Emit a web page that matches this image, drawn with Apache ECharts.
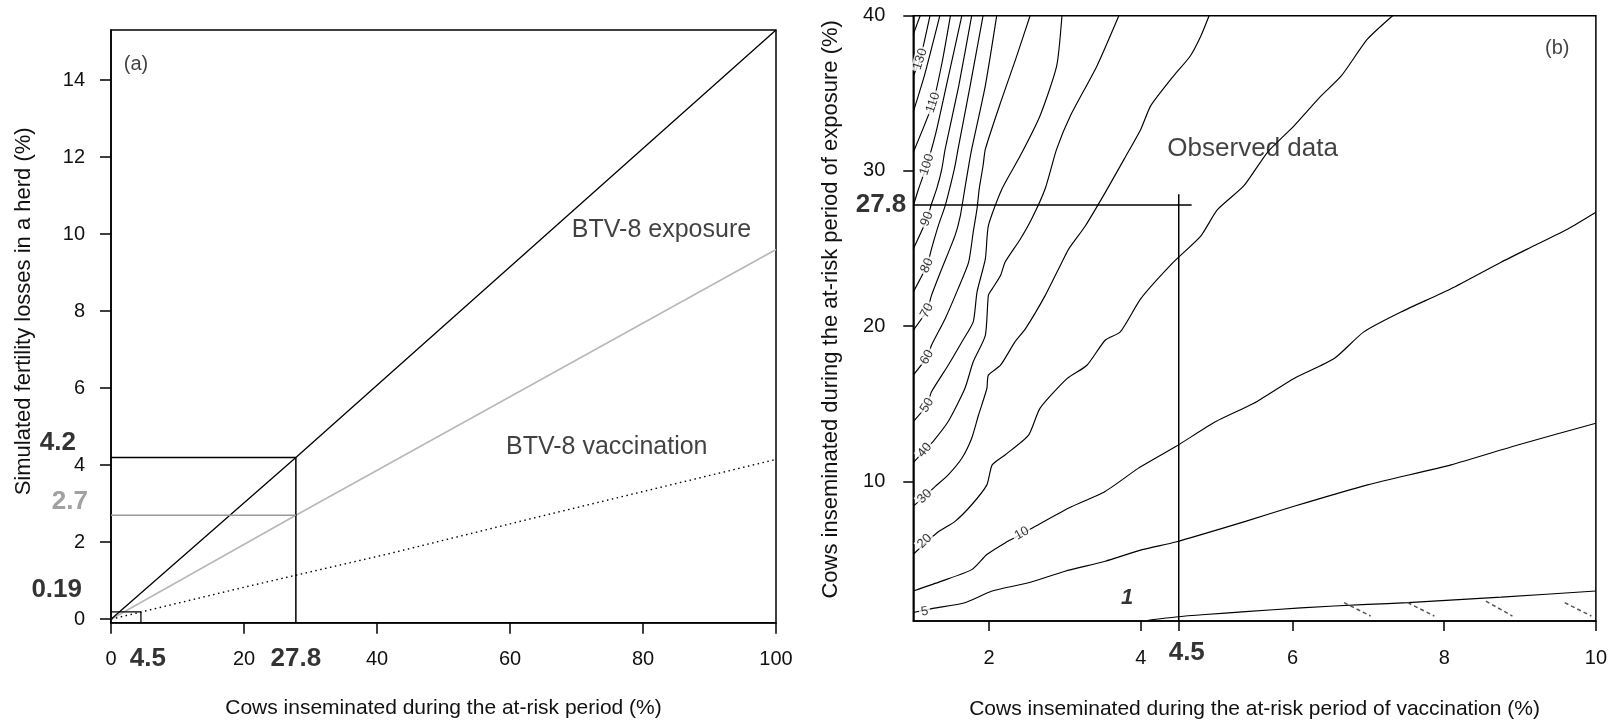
<!DOCTYPE html>
<html>
<head>
<meta charset="utf-8">
<script src="https://cdn.jsdelivr.net/npm/echarts@6/dist/echarts.min.js"></script>
<style>
  html, body { margin: 0; padding: 0; background: #fff; }
  #chart { width: 1610px; height: 725px; }
</style>
</head>
<body>
<div id="chart"></div>
<script>
const FONT = "'Liberation Sans', Arial, Helvetica, sans-serif";

// ---------- Panel (a): simulated fertility losses ----------
const shareAtRisk       = [0, 27.8, 100];
const lossExposure      = [0, 4.2, 15.3];
const lossExposureGrey  = [0, 2.7, 9.6];
const shareVacc         = [0, 20, 42, 65.5, 100];
const lossVaccination   = [0, 0.83, 1.71, 2.71, 4.15];
const observedShare     = 27.8;
const observedLoss      = 4.2;
const observedLossGrey  = 2.7;
const vaccShare         = 4.5;
const vaccLoss          = 0.19;
const ticksAy           = [0, 2, 4, 6, 8, 10, 12, 14];
const yMinA = -0.09, yMaxA = 15.3;

// ---------- Panel (b): contour lines of fertility losses ----------
const ticksBx = [2, 4, 6, 8, 10];
const ticksBy = [10, 20, 30, 40];
const observedVacc = 4.5;
const observedExpo = 27.8;

const level1   = [[4.1,1.05],[4.46,1.26],[4.85,1.42],[5.38,1.6],[6.11,1.85],[6.99,2.07],[7.52,2.18],[8.75,2.54],[10,2.93]];
const level5   = [[1,1.55],[1.26,1.81],[1.68,2.18],[2.04,2.93],[2.52,3.46],[3,4.21],[3.53,4.85],[4.02,5.6],[4.46,6.09],[5.38,7.42],[6.02,8.39],[6.99,9.77],[8.09,11.06],[8.97,12.34],[10,13.74]];
const level10  = [[1,2.93],[1.375,3.57],[1.77,4.31],[1.97,5.28],[2.21,6.03],[2.43,6.6],[2.61,7.1],[3.05,8.28],[3.53,9.35],[3.97,10.85],[4.46,12.24],[4.99,13.85],[5.49,15.03],[6.02,16.63],[6.55,17.91],[6.94,19.63],[7.43,20.91],[8.09,22.41],[8.75,24.12],[9.19,25.19],[9.63,26.26],[10,27.34]];
const level20  = [[1,5.3],[1.31,6.67],[1.55,7.42],[1.77,8.49],[1.97,9.77],[2.04,11.06],[2.21,11.7],[2.52,12.98],[2.67,14.7],[3.03,16.63],[3.29,17.48],[3.53,19.09],[3.73,19.63],[4,21.77],[4.43,24.12],[4.79,25.8],[5.01,27.5],[5.36,29.05],[5.67,31.2],[6.02,32.9],[6.37,34.8],[6.64,36.1],[6.99,38.5],[7.32,40]];
const level30  = [[1,8.4],[1.15,9.03],[1.29,9.67],[1.46,10.42],[1.64,11.49],[1.77,12.78],[1.86,14.27],[1.97,15.98],[1.99,16.84],[2.15,17.48],[2.34,18.98],[2.48,19.84],[2.74,21.98],[2.96,24.12],[3.05,24.98],[3.27,26.47],[3.53,28.6],[3.78,30.76],[4,32.69],[4.13,34.19],[4.43,36.11],[4.65,37.39],[4.79,38.68],[4.9,40]];
const level40  = [[1,11.2],[1.15,12],[1.26,12.56],[1.46,13.85],[1.68,15.98],[1.79,17.7],[1.95,19.41],[1.99,21.98],[2.04,22.4],[2.15,23.26],[2.21,24.12],[2.41,25.6],[2.56,26.9],[2.74,28.87],[2.89,31.4],[3.07,33.54],[3.42,36.75],[3.71,40]];
const level50  = [[1,13.85],[1.18,14.9],[1.24,15.77],[1.46,17.48],[1.64,18.98],[1.79,20.27],[1.84,22.19],[1.95,24.33],[1.99,26.47],[2.17,28.85],[2.41,30.97],[2.67,33.54],[2.89,36.75],[2.96,40]];
const level60  = [[1,16.84],[1.18,18],[1.24,18.77],[1.42,20.48],[1.59,22.4],[1.73,24.12],[1.79,26.05],[1.84,27.55],[1.87,28.87],[1.92,30.33],[1.95,31.4],[2.15,34.4],[2.35,37.2],[2.54,40]];
const level70  = [[1,19.73],[1.18,21],[1.24,21.98],[1.375,23.69],[1.55,25.83],[1.62,27.11],[1.68,28.87],[1.73,30.33],[1.77,31.4],[1.95,35.5],[2.1,40]];
const level80  = [[1,22.2],[1.18,23.9],[1.24,24.98],[1.33,26.47],[1.42,27.75],[1.48,28.87],[1.55,30.33],[1.59,31.4],[1.75,35.5],[1.92,40]];
const level90  = [[1,24.97],[1.18,26.9],[1.24,27.87],[1.31,28.87],[1.375,30.1],[1.42,31.4],[1.6,35.5],[1.77,40]];
const level100 = [[1,27.75],[1.07,28.85],[1.18,30.4],[1.3,32.5],[1.45,35.8],[1.64,40]];
const level110 = [[1,31.2],[1.26,34.4],[1.38,37],[1.49,40]];
const level120 = [[1,33.8],[1.15,36.2],[1.35,40]];
const level130 = [[1,36.1],[1.09,37.2],[1.22,40]];
const level140 = [[1,38.8],[1.09,40]];
const contourPaths = [level1, level5, level10, level20, level30, level40, level50, level60,
                      level70, level80, level90, level100, level110, level120, level130, level140];

// contour labels: text and anchor on the line
const contourLabelText = ['5', '10', '20', '30', '40', '50', '60', '70', '80', '90', '100', '110', '130'];
const contourLabelAt   = [[1.15,1.6],[2.43,6.64],[1.15,6.14],[1.15,9.03],[1.15,12.0],[1.18,14.9],[1.18,18.0],[1.18,21.0],[1.18,23.9],[1.18,26.9],[1.18,30.4],[1.26,34.4],[1.09,37.2]];
const contourLabelTilt = [10, 29, 45, 45, 50, 58, 60, 62, 65, 68, 72, 72, 72];

// dashed hatch marks under the 1 % contour
const hatchSegments = [
  [[6.68,2.18],[7.03,1.32]],
  [[7.52,2.18],[7.87,1.32]],
  [[8.55,2.28],[8.90,1.32]],
  [[9.59,2.18],[9.94,1.32]]
];

const zip = (xs, ys) => xs.map((x, i) => [x, ys[i]]);

const axisCommon = {
  axisLine: { show: true, onZero: false, lineStyle: { color: '#000', width: 1.5 } },
  axisTick: { show: true, length: 11, lineStyle: { color: '#000', width: 1.5 } },
  splitLine: { show: false },
  axisLabel: { fontSize: 20, color: '#111', fontFamily: FONT },
  nameTextStyle: { fontFamily: FONT, color: '#111' }
};

function plainLine(xi, yi, data, color, width, type, z, smooth) {
  return {
    type: 'line', xAxisIndex: xi, yAxisIndex: yi, data: data,
    symbol: 'none', silent: true, z: z || 3, smooth: smooth || false,
    lineStyle: { color: color, width: width, type: type || 'solid' }
  };
}

function note(x, y, text, style) {
  return { value: [x, y], label: Object.assign({ formatter: text }, style) };
}

const boldNote = { fontSize: 26, fontWeight: 'bold', color: '#000' };
const labelBase = { show: true, position: 'inside', fontFamily: FONT, color: '#000', textBorderWidth: 0, textShadowBlur: 0 };

const series = [];

// panel (a) curves
series.push(plainLine(0, 0, zip(shareAtRisk, lossExposureGrey), '#b8b8b8', 1.6));
series.push(plainLine(0, 0, zip(shareAtRisk, lossExposure), '#000', 1.3));
series.push(plainLine(0, 0, zip(shareVacc, lossVaccination), '#000', 1.4, [1.5, 3.5]));

// panel (a) guide lines at the observed values
series.push(plainLine(0, 0, [[0, observedLoss], [observedShare, observedLoss]], '#000', 1.5));
series.push(plainLine(0, 0, [[observedShare, yMinA], [observedShare, observedLoss]], '#000', 1.5));
series.push(plainLine(0, 0, [[0, observedLossGrey], [observedShare, observedLossGrey]], '#999', 1.5));
series.push(plainLine(0, 0, [[0, vaccLoss], [vaccShare, vaccLoss]], '#000', 1.3));
series.push(plainLine(0, 0, [[vaccShare, yMinA], [vaccShare, vaccLoss]], '#000', 1.3));

// panel (a) annotations
series.push({
  type: 'scatter', xAxisIndex: 0, yAxisIndex: 0, symbolSize: 0, silent: true, clip: false, z: 10,
  itemStyle: { color: 'rgba(0,0,0,0)' },
  label: labelBase,
  data: [
    note(3.76, 14.4, '(a)', { fontSize: 20, color: '#111' }),
    note(69.3, 10.1, 'BTV-8 exposure', { fontSize: 25, align: 'left', color: '#111' }),
    note(59.4, 4.46, 'BTV-8 vaccination', { fontSize: 25, align: 'left', color: '#111' }),
    note(0, observedLoss, String(observedLoss), Object.assign({ align: 'right', offset: [-35, -15] }, boldNote)),
    note(0, observedLossGrey, String(observedLossGrey), Object.assign({}, boldNote, { align: 'right', offset: [-23, -13], color: '#8a8a8a' })),
    note(0, vaccLoss, String(vaccLoss), Object.assign({ align: 'right', offset: [-29, -22] }, boldNote)),
    note(vaccShare, yMinA, String(vaccShare), Object.assign({ offset: [7, 36] }, boldNote)),
    note(observedShare, yMinA, String(observedShare), Object.assign({ offset: [0, 36] }, boldNote))
  ]
});

// panel (b) contours
contourPaths.forEach(path => {
  series.push(plainLine(1, 1, path, '#000', 1.15, 'solid', 2, 0.2));
});
hatchSegments.forEach(seg => {
  series.push(plainLine(1, 1, seg, '#555', 1.5, [4, 3], 2));
});

// panel (b) observed-data guides
series.push(plainLine(1, 1, [[1, observedExpo], [observedVacc + 0.17, observedExpo]], '#000', 1.5, 'solid', 4));
series.push(plainLine(1, 1, [[observedVacc, 1], [observedVacc, observedExpo + 0.7]], '#000', 1.5, 'solid', 4));

// contour labels
series.push({
  type: 'scatter', xAxisIndex: 1, yAxisIndex: 1, symbolSize: 0, silent: true, clip: false, z: 8,
  itemStyle: { color: 'rgba(0,0,0,0)' },
  label: Object.assign({}, labelBase, {
    fontSize: 13, backgroundColor: '#fff', padding: [0, 2], lineHeight: 13
  }),
  data: contourLabelAt.map((p, i) => ({
    value: p,
    label: { formatter: contourLabelText[i], rotate: contourLabelTilt[i] }
  }))
});

// panel (b) annotations
series.push({
  type: 'scatter', xAxisIndex: 1, yAxisIndex: 1, symbolSize: 0, silent: true, clip: false, z: 10,
  itemStyle: { color: 'rgba(0,0,0,0)' },
  label: labelBase,
  data: [
    note(9.49, 37.9, '(b)', { fontSize: 20, color: '#111' }),
    note(4.35, 31.4, 'Observed data', { fontSize: 26, align: 'left', color: '#111' }),
    note(3.82, 2.5, '1', { fontSize: 22, fontWeight: 'bold', fontStyle: 'italic' }),
    note(1, observedExpo, String(observedExpo), Object.assign({ align: 'right', offset: [-7, 0] }, boldNote)),
    note(observedVacc, 1, String(observedVacc), Object.assign({ offset: [8, 32] }, boldNote))
  ]
});

const option = {
  animation: false,
  backgroundColor: '#fff',
  textStyle: { fontFamily: FONT },
  grid: [
    { left: 111, top: 30, width: 665, height: 592.7, show: true, borderColor: '#000', borderWidth: 1.5, backgroundColor: 'transparent' },
    { left: 913.3, top: 15.7, width: 682.7, height: 607.6, show: true, borderColor: '#000', borderWidth: 1.5, backgroundColor: 'transparent' }
  ],
  xAxis: [
    Object.assign({}, axisCommon, {
      gridIndex: 0, type: 'value', min: 0, max: 100, interval: 20,
      axisLabel: Object.assign({}, axisCommon.axisLabel, { margin: 27 }),
      name: 'Cows inseminated during the at-risk period (%)',
      nameLocation: 'middle', nameGap: 75,
      nameTextStyle: Object.assign({}, axisCommon.nameTextStyle, { fontSize: 21 })
    }),
    Object.assign({}, axisCommon, {
      gridIndex: 1, type: 'value', min: 1, max: 10,
      axisTick: Object.assign({}, axisCommon.axisTick, { length: 10, customValues: ticksBx.concat([observedVacc]) }),
      axisLabel: Object.assign({}, axisCommon.axisLabel, { margin: 27, customValues: ticksBx }),
      name: 'Cows inseminated during the at-risk period of vaccination (%)',
      nameLocation: 'middle', nameGap: 78,
      nameTextStyle: Object.assign({}, axisCommon.nameTextStyle, { fontSize: 21 })
    })
  ],
  yAxis: [
    Object.assign({}, axisCommon, {
      gridIndex: 0, type: 'value', min: yMinA, max: yMaxA,
      axisTick: Object.assign({}, axisCommon.axisTick, { customValues: ticksAy }),
      axisLabel: Object.assign({}, axisCommon.axisLabel, { margin: 26, customValues: ticksAy }),
      name: 'Simulated fertility losses in a herd (%)',
      nameLocation: 'middle', nameGap: 76,
      nameTextStyle: Object.assign({}, axisCommon.nameTextStyle, { fontSize: 22, padding: [0, 0, 0, 30] })
    }),
    Object.assign({}, axisCommon, {
      gridIndex: 1, type: 'value', min: 1, max: 40,
      axisTick: Object.assign({}, axisCommon.axisTick, { length: 10, customValues: ticksBy }),
      axisLabel: Object.assign({}, axisCommon.axisLabel, { margin: 28, customValues: ticksBy }),
      name: 'Cows inseminated during the at-risk period of exposure (%)',
      nameLocation: 'middle', nameGap: 71,
      nameTextStyle: Object.assign({}, axisCommon.nameTextStyle, { fontSize: 22, padding: [0, 0, 0, 18] })
    })
  ],
  series: series
};

const chart = echarts.init(document.getElementById('chart'), null, { renderer: 'canvas' });
chart.setOption(option);
</script>
</body>
</html>
